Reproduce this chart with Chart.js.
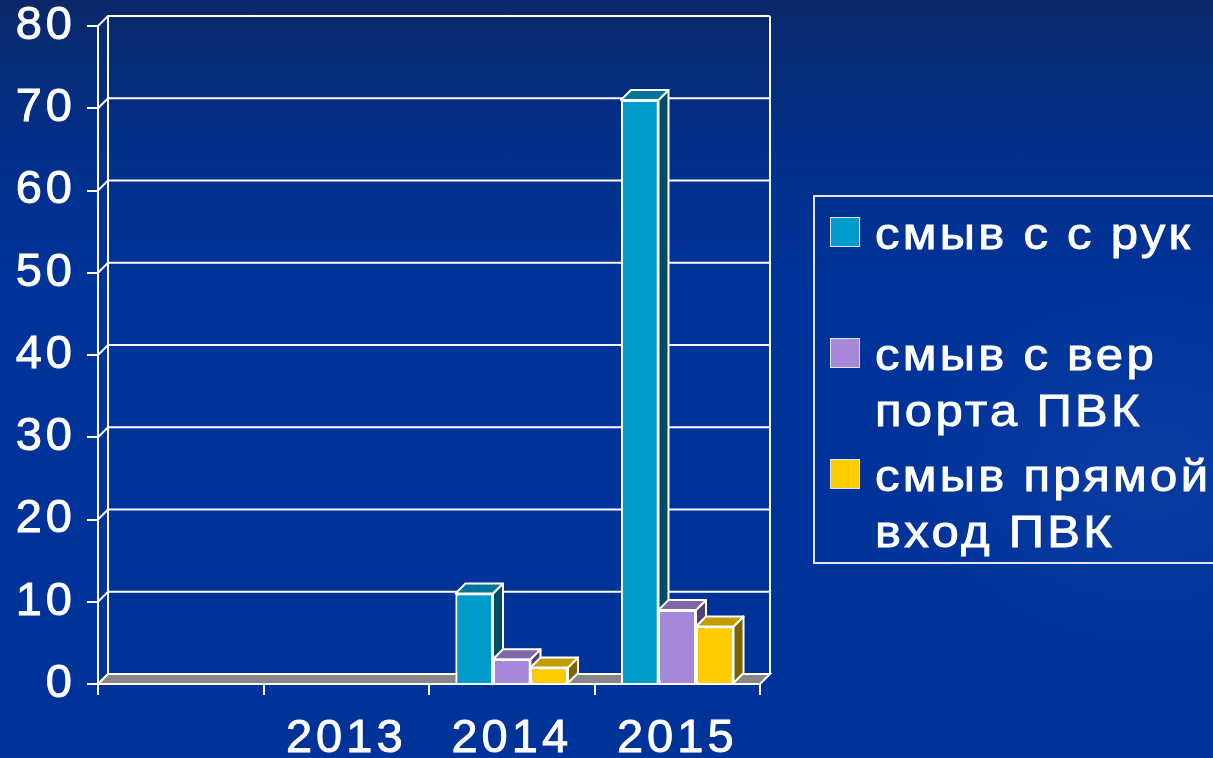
<!DOCTYPE html>
<html>
<head>
<meta charset="utf-8">
<script src="https://cdn.jsdelivr.net/npm/chart.js@4"></script>
<style>
  html, body { margin: 0; padding: 0; }
  body {
    width: 1213px; height: 758px; overflow: hidden; position: relative;
    background:
      radial-gradient(ellipse 260px 200px at 1150px 470px, rgba(90, 130, 220, 0.10), rgba(90, 130, 220, 0) 100%),
      linear-gradient(180deg, #0a2868 0%, #022f88 18%, #003399 38%, #003399 100%);
    font-family: 'Liberation Sans', Arial, sans-serif;
  }
  #chart { position: absolute; left: 0; top: 0; }
  #legend {
    position: absolute; left: 813px; top: 195px; width: 420px; height: 369px;
    border: 2px solid #e4e4f0; box-sizing: border-box;
  }
  .item { position: absolute; left: 0; color: #fff; font-size: 45px; line-height: 56px; letter-spacing: 3px; word-spacing: -1px; white-space: pre; -webkit-text-stroke: 0.9px #fff; }
  .item .box { position: absolute; left: 15px; top: 11px; width: 28px; height: 28px; border: 1px solid #dfe6f2; }
  .item .txt { position: absolute; left: 60px; top: 0; transform: scaleX(1.09); transform-origin: 0 0; }
</style>
</head>
<body>
<canvas id="chart" width="1213" height="758"></canvas>
<div id="legend"></div>
<script>
// data
const categories = ['', '2013', '2014', '2015'];
const handWash = [null, 0, 11, 71];
const portWash = [null, 0, 3, 9];
const directWash = [null, 0, 2, 7];
const seriesNames = [['смыв с с рук', ''], ['смыв с вер', 'порта ПВК'], ['смыв прямой', 'вход ПВК']];
const yTicks = [0, 10, 20, 30, 40, 50, 60, 70, 80];

// styles
const frontColors = ['#009acb', '#a687da', '#ffcc00'];
const topColors = ['#00739a', '#7f68aa', '#c49c00'];
const sideColors = ['#004c66', '#514177', '#7c6300'];
const D = 10; // 3d depth
const tickFont = { family: 'Liberation Sans', size: 47, lineHeight: 1 };

// legend
const legend = document.getElementById('legend');
seriesNames.forEach((lines, i) => {
  const item = document.createElement('div');
  item.className = 'item';
  item.style.top = (9 + i * 121) + 'px';
  item.style.height = '112px';
  const box = document.createElement('div');
  box.className = 'box';
  box.style.background = frontColors[i];
  const txt = document.createElement('div');
  txt.className = 'txt';
  txt.textContent = lines.join('\n');
  item.appendChild(box);
  item.appendChild(txt);
  legend.appendChild(item);
});

function poly(ctx, pts, fill) {
  ctx.beginPath();
  ctx.moveTo(pts[0][0], pts[0][1]);
  pts.slice(1).forEach(p => ctx.lineTo(p[0], p[1]));
  ctx.closePath();
  ctx.fillStyle = fill;
  ctx.fill();
  ctx.stroke();
}

const depth3d = {
  id: 'depth3d',
  beforeUpdate(chart) { chart.ctx.letterSpacing = '4px'; },
  beforeDraw(chart) { chart.ctx.letterSpacing = '4px'; },
  beforeDatasetsDraw(chart) {
    const { ctx, chartArea: a, scales: { y } } = chart;
    ctx.save();
    ctx.strokeStyle = '#fff';
    ctx.lineWidth = 2;
    // floor
    poly(ctx, [[a.left, a.bottom], [a.right, a.bottom], [a.right + D, a.bottom - D], [a.left + D, a.bottom - D]], '#878787');
    // back wall + gridlines
    ctx.beginPath();
    yTicks.forEach(v => {
      const py = y.getPixelForValue(v);
      ctx.moveTo(a.left, py);
      ctx.lineTo(a.left + D, py - D);
      if (v > 0) ctx.lineTo(a.right + D, py - D);
    });
    ctx.moveTo(a.left + D, a.top - D);
    ctx.lineTo(a.left + D, a.bottom - D);
    ctx.moveTo(a.right + D, a.top - D);
    ctx.lineTo(a.right + D, a.bottom - D);
    ctx.stroke();
    ctx.restore();
  },
  afterDatasetsDraw(chart) {
    const ctx = chart.ctx;
    ctx.save();
    ctx.strokeStyle = '#fff';
    ctx.lineWidth = 2;
    ctx.lineJoin = 'round';
    categories.forEach((c, ci) => {
      chart.data.datasets.forEach((ds, s) => {
        const el = chart.getDatasetMeta(s).data[ci];
        if (!el || !ds.data[ci]) return;
        const { x, y, base, width } = el.getProps(['x', 'y', 'base', 'width'], true);
        const l = x - width / 2, r = x + width / 2;
        poly(ctx, [[r, y], [r + D, y - D], [r + D, base - D], [r, base]], sideColors[s]);
        poly(ctx, [[l, y], [r, y], [r + D, y - D], [l + D, y - D]], topColors[s]);
        el.draw(ctx);
      });
    });
    ctx.restore();
  }
};

const seriesData = [handWash, portWash, directWash];
new Chart(document.getElementById('chart'), {
  type: 'bar',
  data: {
    labels: categories,
    datasets: seriesData.map((d, i) => ({
      label: seriesNames[i].join(' ').trim(),
      data: d,
      backgroundColor: frontColors[i],
      borderColor: '#ffffff',
      borderWidth: 2,
      barPercentage: 1,
      categoryPercentage: 0.68
    }))
  },
  options: {
    responsive: false,
    animation: false,
    layout: { padding: { top: 26, right: 453, left: 0, bottom: 0 } },
    plugins: { legend: { display: false }, tooltip: { enabled: false } },
    scales: {
      x: {
        grid: { offset: true, drawOnChartArea: false, tickLength: 11, color: '#fff', lineWidth: 2 },
        border: { color: '#fff', width: 2 },
        ticks: { color: '#fff', textStrokeColor: '#fff', textStrokeWidth: 0.9, font: tickFont, padding: 21, maxRotation: 0, autoSkip: false },
        afterFit(s) { s.height = 74; s.paddingLeft = 0; s.paddingRight = 0; }
      },
      y: {
        min: 0,
        max: 80,
        afterBuildTicks(s) { s.ticks = yTicks.map(v => ({ value: v })); },
        grid: { drawOnChartArea: false, tickLength: 11, color: '#fff', lineWidth: 2 },
        border: { color: '#fff', width: 2 },
        ticks: { color: '#fff', textStrokeColor: '#fff', textStrokeWidth: 0.9, font: tickFont, padding: 11 },
        afterFit(s) { s.width = 98; s.paddingTop = 0; s.paddingBottom = 0; }
      }
    }
  },
  plugins: [depth3d]
});
</script>
</body>
</html>
